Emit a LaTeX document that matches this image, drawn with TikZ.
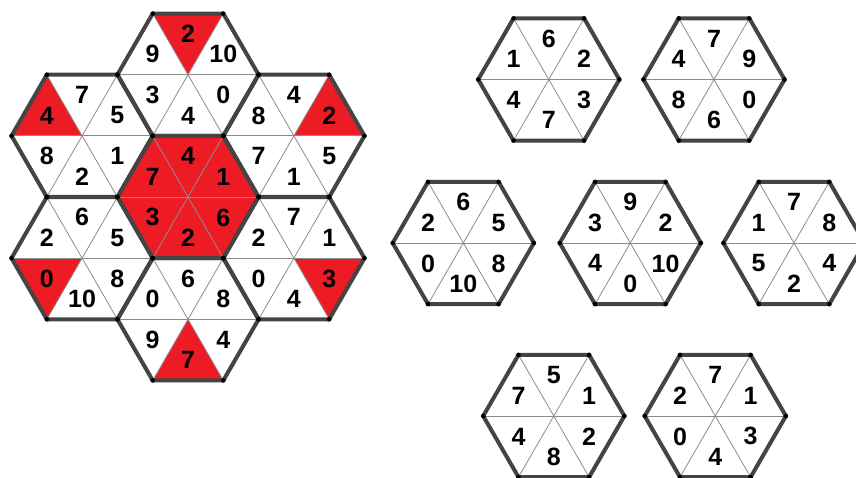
\documentclass[tikz,border=0pt]{standalone}
\usepackage{fontspec}
\setmainfont{Liberation Sans}
\definecolor{hexred}{HTML}{ED1C24}
\definecolor{edgegray}{HTML}{444444}
\definecolor{thingray}{HTML}{8C8C8C}
\def\hs{70.6}
\def\lr{40.8}
\tikzset{
  thinline/.style={draw=thingray, line width=0.8pt},
  thickline/.style={draw=edgegray, line width=4pt, line join=round},
  lbl/.style={inner sep=0pt, font=\fontsize{25}{25}\selectfont\bfseries}
}
% labels in order: SE, S, SW, NW, N, NE
\newcommand{\hexcell}[5]{%
  \ifcase#1
    \foreach \lab/\col [count=\k from 0] in {#5} {\fill[\col] (#3,#4) -- +({60*\k}:\hs) -- +({60*\k+60}:\hs) -- cycle;}
    \foreach \a in {0,60,120} {\draw[thinline] (#3,#4) +(\a:\hs) -- +(\a+180:\hs);}
  \or
    \draw[thickline] (#3,#4) +(0:\hs) -- +(60:\hs) -- +(120:\hs) -- +(180:\hs) -- +(240:\hs) -- +(300:\hs) -- cycle;
  \or
    \foreach \a in {0,60,...,300} {\fill[black] (#3,#4) +(\a:\hs) circle (2.3pt);}
    \foreach \lab/\col [count=\k from 0] in {#5} {\path (#3,#4) +({60*\k+30}:\lr) node[lbl] (#2-\k) {\lab};}
  \fi
}
\newcommand{\allhex}[1]{%
  \hexcell{#1}{t}{188}{74.7}{0/white,4/white,3/white,9/white,2/hexred,10/white}%
  \hexcell{#1}{tl}{82.1}{135.85}{1/white,2/white,8/white,4/hexred,7/white,5/white}%
  \hexcell{#1}{tr}{293.9}{135.85}{5/white,1/white,7/white,8/white,4/white,2/hexred}%
  \hexcell{#1}{c}{188}{197}{6/hexred,2/hexred,3/hexred,7/hexred,4/hexred,1/hexred}%
  \hexcell{#1}{bl}{82.1}{258.15}{8/white,10/white,0/hexred,2/white,6/white,5/white}%
  \hexcell{#1}{br}{293.9}{258.15}{3/hexred,4/white,0/white,2/white,7/white,1/white}%
  \hexcell{#1}{b}{188}{319.3}{4/white,7/hexred,9/white,0/white,6/white,8/white}%
  \hexcell{#1}{A}{548.8}{79.5}{3/white,7/white,4/white,1/white,6/white,2/white}%
  \hexcell{#1}{B}{714}{79.5}{0/white,6/white,8/white,4/white,7/white,9/white}%
  \hexcell{#1}{C}{463.3}{243}{8/white,10/white,0/white,2/white,6/white,5/white}%
  \hexcell{#1}{D}{630.3}{243}{10/white,0/white,4/white,3/white,9/white,2/white}%
  \hexcell{#1}{E}{794}{243}{4/white,2/white,5/white,1/white,7/white,8/white}%
  \hexcell{#1}{F}{553.8}{416}{2/white,8/white,4/white,7/white,5/white,1/white}%
  \hexcell{#1}{G}{715.3}{416}{3/white,4/white,0/white,2/white,7/white,1/white}%
}
\begin{document}
\begin{tikzpicture}[x=1pt,y=-1pt]
\useasboundingbox (0,0) rectangle (856,478);
\clip (0,0) rectangle (856,478);
\allhex{0}
\allhex{1}
\allhex{2}
\end{tikzpicture}
\end{document}
